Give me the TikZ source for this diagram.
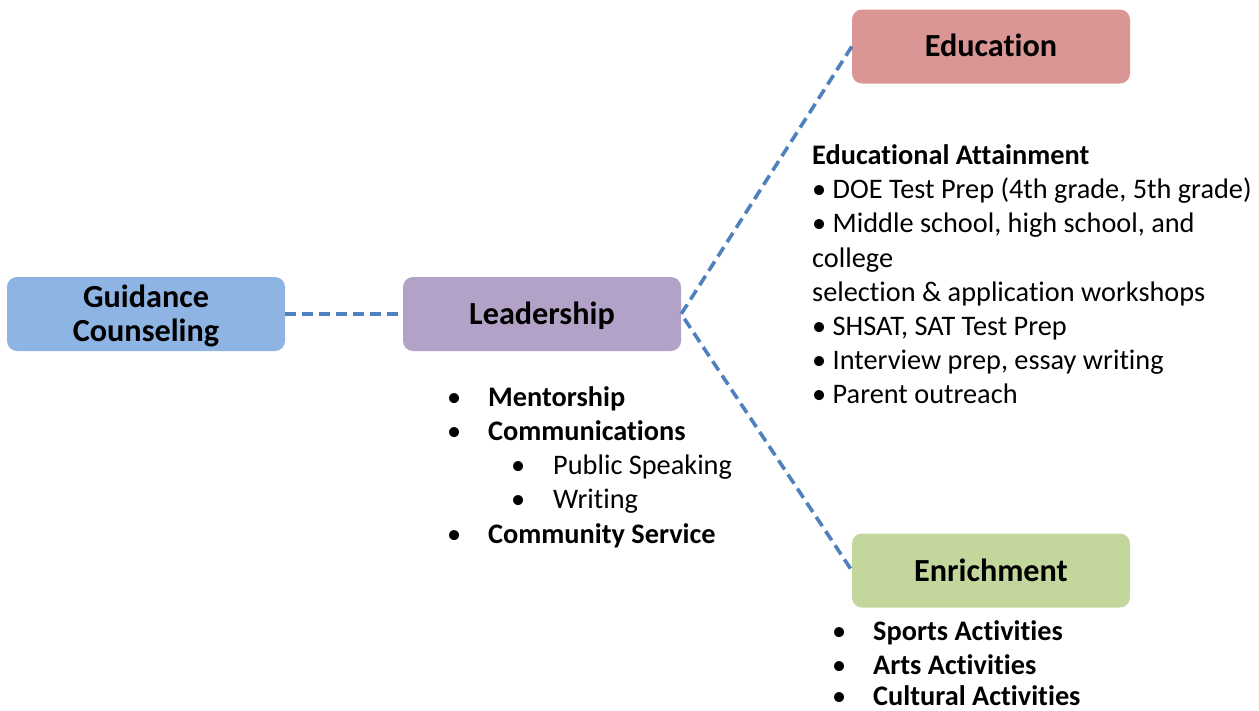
\documentclass[tikz,border=0pt]{standalone}
\usepackage{fontspec}
\setmainfont{Carlito}[Ligatures=NoCommon]
\definecolor{cGuid}{HTML}{8EB4E3}
\definecolor{cLead}{HTML}{B3A2C7}
\definecolor{cEdu}{HTML}{D99694}
\definecolor{cEnr}{HTML}{C3D69B}
\definecolor{cLine}{HTML}{4F81BD}
\tikzset{
  box/.style={rounded corners=10pt, minimum width=278pt, minimum height=74pt, inner sep=0pt, draw=none},
  title/.style={font=\fontsize{32.2}{34}\selectfont\bfseries, inner sep=0pt, anchor=base},
  body/.style={font=\fontsize{28.3}{34}\selectfont, inner sep=0pt, anchor=base west},
  bodyb/.style={font=\fontsize{28.3}{34}\selectfont\bfseries, inner sep=0pt, anchor=base west},
  conn/.style={line width=3.6pt, color=cLine, dash pattern=on 11pt off 6pt},
}
\begin{document}
\begin{tikzpicture}[x=1pt,y=-1pt]
\useasboundingbox (0,0) rectangle (1259,710);
% boxes
\node[box, fill=cGuid] (guid) at (146,314) {};
\node[box, fill=cLead] (lead) at (542,314) {};
\node[box, fill=cEdu] (edu) at (991,46.5) {};
\node[box, fill=cEnr] (enr) at (991,570.5) {};
% titles
\node[title] (guidt1) at (146,307) {Guidance};
\node[title] (guidt2) at (146,341) {Counseling};
\node[title] (leadt) at (542,324) {Leadership};
\node[title] (edut) at (991,56) {Education};
\node[title] (enrt) at (991,581) {Enrichment};
% connectors
\draw[conn] (guid.east) -- (lead.west);
\draw[conn] (edu.west) -- (lead.east) -- (enr.west);
% education text
\node[bodyb] (e0) at (812,164) {Educational Attainment};
\node[body] (e1) at (812,198) {• DOE Test Prep (4th grade, 5th grade)};
\node[body] (e2) at (812,232) {• Middle school, high school, and};
\node[body] (e3) at (812,267) {college};
\node[body] (e4) at (812,301) {selection \& application workshops};
\node[body] (e5) at (812,335) {• SHSAT, SAT Test Prep};
\node[body] (e6) at (812,369) {• Interview prep, essay writing};
\node[body] (e7) at (812,403) {• Parent outreach};
% leadership list
\node[body] (lb1) at (447,406) {•};
\node[bodyb] (l1) at (488,406) {Mentorship};
\node[body] (lb2) at (447,440) {•};
\node[bodyb] (l2) at (488,440) {Communications};
\node[body] (lb3) at (511,474) {•};
\node[body] (l3) at (553,474) {Public Speaking};
\node[body] (lb4) at (511,508) {•};
\node[body] (l4) at (553,508) {Writing};
\node[body] (lb5) at (447,543) {•};
\node[bodyb] (l5) at (488,543) {Community Service};
% enrichment list
\node[body] (nb1) at (832,640) {•};
\node[bodyb] (n1) at (873,640) {Sports Activities};
\node[body] (nb2) at (832,674) {•};
\node[bodyb] (n2) at (873,674) {Arts Activities};
\node[body] (nb3) at (832,705) {•};
\node[bodyb] (n3) at (873,705) {Cultural Activities};
\end{tikzpicture}
\end{document}
